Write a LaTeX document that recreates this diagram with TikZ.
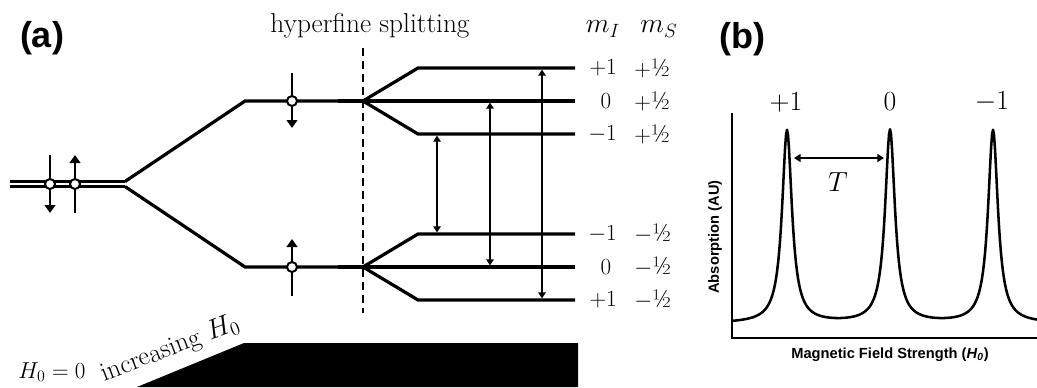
\documentclass[tikz,border=0pt]{standalone}
\usepackage{fontspec}
\newfontfamily\arialfont{Liberation Sans}
\usetikzlibrary{arrows.meta}

\begin{document}
\begin{tikzpicture}[x=0.75pt,y=0.75pt,yscale=-1,xscale=1,
  lvl/.style={line width=2.4pt},
  thinlvl/.style={line width=1.6pt},
  spin/.style={line width=1.6pt},
  spintip/.style={spin,-{Triangle[width=8pt,length=6pt]}},
  trans/.style={line width=1.2pt,{Triangle[width=5.5pt,length=4.5pt]}-{Triangle[width=5.5pt,length=4.5pt]},shorten <=1.2pt,shorten >=1.2pt},
  elec/.style={circle,draw,fill=white,line width=1.5pt,minimum size=7.5pt,inner sep=0pt},
  lbl/.style={inner sep=0.75pt,font=\fontsize{19}{19}\selectfont},
  big/.style={inner sep=0.75pt,font=\fontsize{20}{20}\selectfont},
  panel/.style={inner sep=0.75pt,font=\arialfont\bfseries\fontsize{27}{27}\selectfont},
  axlbl/.style={inner sep=0.75pt,font=\arialfont\bfseries\fontsize{11}{11}\selectfont},
  declare function={lor(\t)=0.36/(\t*\t+0.36);}]
\useasboundingbox (0,0) rectangle (1037,387);

%Coordinates of the levels
\coordinate (up0) at (245,101);
\coordinate (upS) at (363,101);
\coordinate (lo0) at (245,267);
\coordinate (loS) at (363,267);
\coordinate (pp) at (575,68);
\coordinate (zp) at (575,101);
\coordinate (mp) at (575,134);
\coordinate (mm) at (575,234);
\coordinate (zm) at (575,267);
\coordinate (pm) at (575,300);

%Straight Lines: degenerate level at zero field
\draw [thinlvl]  (10,181.5) -- (125,181.5) ;
\draw [thinlvl]  (10,186.5) -- (125,186.5) ;
\draw [lvl]  (125,181.5) -- (up0) -- (upS) ;
\draw [lvl]  (125,186.5) -- (lo0) -- (loS) ;
%Straight Lines: hyperfine branches
\draw [lvl]  (upS) -- (418,68) -- (pp) ;
\draw [lvl]  (338,101) -- (zp) ;
\draw [lvl]  (upS) -- (418,134) -- (mp) ;
\draw [lvl]  (loS) -- (418,234) -- (mm) ;
\draw [lvl]  (338,267) -- (zm) ;
\draw [lvl]  (loS) -- (418,300) -- (pm) ;
%Straight Lines: dashed divider
\draw [line width=1.3pt,dash pattern={on 6pt off 3.75pt}]  (363,48) -- (363,313) ;

%Straight Lines: transitions
\draw [trans]  (437,134) -- (437,234) ;
\draw [trans]  (490,101) -- (490,267) ;
\draw [trans]  (542,68) -- (542,300) ;

%Shape: Circles (electrons)
\node [elec] (e1) at (50,184) {};
\node [elec] (e2) at (75,184) {};
\node [elec] (e3) at (292,101) {};
\node [elec] (e4) at (292,267) {};
\draw [spin]  (e1.north) -- (50,155) ;
\draw [spintip]  (e1.south) -- (50,213) ;
\draw [spintip]  (e2.north) -- (75,155) ;
\draw [spin]  (e2.south) -- (75,213) ;
\draw [spin]  (e3.north) -- (292,73) ;
\draw [spintip]  (e3.south) -- (292,128) ;
\draw [spintip]  (e4.north) -- (292,239) ;
\draw [spin]  (e4.south) -- (292,296) ;

%Shape: Wedge
\fill  (137,387) -- (244,343) -- (578,343) -- (578,387) -- cycle ;

% Text Node
\node [panel] (ta) at (42,38) {(a)};
% Text Node
\node [lbl,font=\fontsize{20.5}{20.5}\selectfont] (thf) at (370,26) {hyperfine splitting};
% Text Node
\node [lbl,font=\fontsize{21}{21}\selectfont] (tmi) at (603,29) {$m_I$};
% Text Node
\node [lbl,font=\fontsize{21}{21}\selectfont] (tms) at (659,29) {$m_S$};
% Text Node
\node [lbl,anchor=east] (ti1) at (618,68) {$+1$};
\node [lbl] (ti2) at (606,101) {$0$};
\node [lbl,anchor=east] (ti3) at (618,134) {$-1$};
\node [lbl,anchor=east] (ti4) at (618,234) {$-1$};
\node [lbl] (ti5) at (606,267) {$0$};
\node [lbl,anchor=east] (ti6) at (618,300) {$+1$};
% Text Node
\node [lbl,anchor=west] (ts1) at (633,68) {$+$½};
\node [lbl,anchor=west] (ts2) at (633,101) {$+$½};
\node [lbl,anchor=west] (ts3) at (633,134) {$+$½};
\node [lbl,anchor=west] (ts4) at (633,234) {$-$½};
\node [lbl,anchor=west] (ts5) at (633,267) {$-$½};
\node [lbl,anchor=west] (ts6) at (633,300) {$-$½};
% Text Node
\node [lbl,inner sep=0pt,font=\fontsize{17.5}{17.5}\selectfont] (tzero) at (52,372) {$H_0 = 0$};
% Text Node
\node [lbl,inner sep=0pt,rotate=21,font=\fontsize{20}{20}\selectfont] (tinc) at (170,349) {increasing $H_0$};

% Text Node
\node [panel] (tb) at (742,39) {(b)};
%Straight Lines: axes
\draw [line width=0.8pt]  (732,113) -- (732,338) -- (1037,338) ;
%Curve: spectrum
\draw [line width=1.9pt,line join=round]  plot [domain=733:1037,samples=305] (\x,{323.5-193*(lor((\x-787)/10)+lor((\x-890)/10)+lor((\x-993)/10))}) ;
% Text Node
\node [big] (tp1) at (786,102) {$+1$};
\node [big] (tp2) at (890,102) {$0$};
\node [big] (tp3) at (992,102) {$-1$};
%Straight Lines: splitting
\coordinate (tl) at (794,158);
\coordinate (tr) at (884,158);
\draw [line width=1.3pt,{Triangle[width=6pt,length=5pt]}-{Triangle[width=6pt,length=5pt]}]  (tl) -- (tr) ;
% Text Node
\node [big] (tT) at (838,182) {$T$};
% Text Node
\node [axlbl,rotate=90] (tabs) at (715,237) {Absorption (AU)};
% Text Node
\node [axlbl] (tmag) at (890,355) {Magnetic Field Strength (\textit{H}\textsubscript{\textit{0}})};

\end{tikzpicture}
\end{document}
